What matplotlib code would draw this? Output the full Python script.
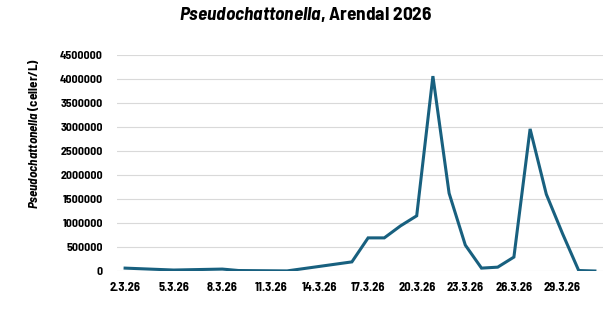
import matplotlib
matplotlib.use("Agg")
import matplotlib.pyplot as plt

# Data (day of March 2026 and cell count)
dager = [2, 5, 8, 9, 12, 16, 17, 18, 19, 20, 21, 22, 23, 24, 25, 26, 27, 28, 29, 30, 31]
celler = [60000, 20000, 40000, 10000, 2000, 190000, 690000, 690000, 940000, 1150000,
          4060000, 1620000, 540000, 60000, 80000, 290000, 2960000, 1600000, 780000,
          10000, 0]
tick_dager = [2, 5, 8, 11, 14, 17, 20, 23, 26, 29]
tick_labels = ["%d.3.26" % d for d in tick_dager]
y_ticks = [0, 500000, 1000000, 1500000, 2000000, 2500000, 3000000, 3500000, 4000000, 4500000]

font = "Barlow Semi Condensed"
plt.rcParams["font.family"] = [font, "DejaVu Sans"]
plt.rcParams["mathtext.fontset"] = "custom"
plt.rcParams["mathtext.it"] = font + ":italic:bold"
plt.rcParams["mathtext.rm"] = font + ":bold"

fig = plt.figure(figsize=(6.11, 3.22), dpi=100)
ax = fig.add_axes([117/611, 1 - 271/322, (603 - 117)/611, (271 - 55)/322])

ax.plot(dager, celler, color="#18607F", linewidth=2.2, solid_joinstyle="miter")

ax.set_xlim(1.5, 31.5)
ax.set_ylim(0, 4500000)
ax.set_xticks(tick_dager)
ax.set_xticklabels(tick_labels, fontsize=9, fontweight="bold")
ax.set_yticks(y_ticks)
ax.set_yticklabels([str(v) for v in y_ticks], fontsize=8.5, fontweight="bold")
ax.tick_params(length=0, pad=8)
ax.tick_params(axis="y", pad=10)
ax.yaxis.grid(True, color="#D9D9D9", linewidth=0.8)
ax.set_axisbelow(True)
for s in ax.spines.values():
    s.set_visible(False)

fig.text(306/611, 1 - 14/322, r"$Pseudochattonella$, Arendal 2026",
         ha="center", va="center", fontsize=13.8, fontweight="bold")
fig.text(34/611, 1 - 133/322, r"$Pseudochattonella$ (celler/L)",
         rotation=90, ha="center", va="center", fontsize=9.4, fontweight="bold")

fig.savefig("out.png", dpi=100, facecolor="white")
